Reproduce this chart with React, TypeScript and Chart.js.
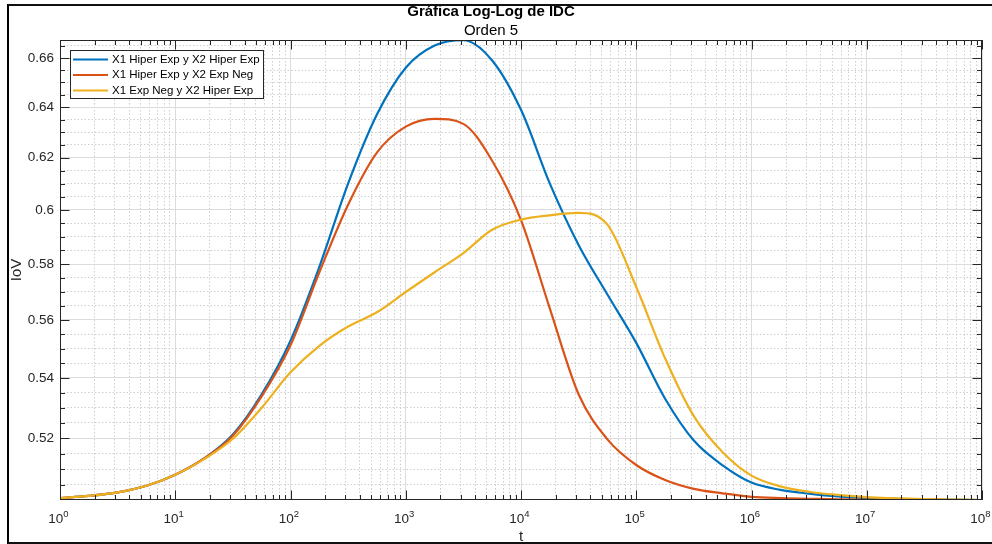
import React, { useEffect, useRef } from "react";
import { Chart, registerables } from "chart.js";

Chart.register(...registerables);

// ---- data ----
const tValues = [
  1, 1.78, 3.16, 5.62, 10, 17.8, 31.6, 56.2, 100, 178, 316, 562, 1000, 1780,
  3160, 5620, 1e4, 1.78e4, 3.16e4, 5.62e4, 1e5, 1.78e5, 3.16e5, 5.62e5, 1e6,
  1.78e6, 3.16e6, 5.62e6, 1e7, 3.16e7, 1e8,
];

const seriesLabels = [
  "X1 Hiper Exp y X2 Hiper Exp",
  "X1 Hiper Exp y X2 Exp Neg",
  "X1 Exp Neg y X2 Hiper Exp",
];

const hiperHiper = [
  0.5008, 0.5015, 0.5026, 0.5047, 0.5082, 0.5134, 0.5212, 0.5345, 0.5528, 0.579,
  0.61, 0.637, 0.656, 0.6652, 0.6674, 0.659, 0.6389, 0.61, 0.587, 0.569, 0.552,
  0.533, 0.5192, 0.5112, 0.5057, 0.5034, 0.5022, 0.5013, 0.5008, 0.5004, 0.5002,
];

const hiperNeg = [
  0.5008, 0.5015, 0.5026, 0.5047, 0.5082, 0.5134, 0.5208, 0.5338, 0.5512, 0.577,
  0.602, 0.622, 0.6322, 0.6353, 0.6333, 0.6188, 0.5962, 0.564, 0.5345, 0.5196,
  0.5113, 0.5065, 0.5037, 0.5023, 0.5012, 0.5008, 0.5006, 0.5004, 0.5003, 0.5002,
  0.5002,
];

const negHiper = [
  0.5008, 0.5015, 0.5026, 0.5047, 0.5082, 0.5132, 0.5198, 0.53, 0.5419, 0.551,
  0.5577, 0.5627, 0.5699, 0.577, 0.584, 0.5926, 0.5964, 0.598, 0.5989, 0.5945,
  0.5717, 0.5467, 0.5272, 0.5154, 0.5079, 0.5045, 0.5028, 0.5018, 0.5011, 0.5005,
  0.5002,
];

const seriesColors = ["#0072BD", "#D95319", "#EDB120"];

const yMajorTicks = [0.52, 0.54, 0.56, 0.58, 0.6, 0.62, 0.64, 0.66];
const yMinorStep = 0.005;
const yRange = [0.5002, 0.6675];
const xDecades = [1, 10, 100, 1e3, 1e4, 1e5, 1e6, 1e7, 1e8];
const xMinorMultipliers = [2, 3, 4, 5, 6, 7, 8, 9];

const titleText = "Gráfica Log-Log de IDC";
const subtitleText = "Orden 5";
const xTitle = "t";
const yTitle = "IoV";

const FONT = "'Liberation Sans', Arial, Helvetica, sans-serif";
const AXIS_COLOR = "#262626";

// ---- helpers ----
const isMajorY = (v: number) => yMajorTicks.some((m) => Math.abs(m - v) < 1e-9);
const isDecade = (v: number) => {
  const l = Math.log10(v);
  return Math.abs(l - Math.round(l)) < 1e-9;
};

const yTickValues: number[] = [];
for (
  let k = Math.ceil(yRange[0] / yMinorStep - 1e-9);
  k * yMinorStep <= yRange[1] + 1e-12;
  k++
) {
  yTickValues.push(Number((k * yMinorStep).toFixed(4)));
}

const xTickValues: number[] = [];
xDecades.forEach((d, i) => {
  xTickValues.push(d);
  if (i < xDecades.length - 1) xMinorMultipliers.forEach((m) => xTickValues.push(m * d));
});

const matlabDecor = {
  id: "matlabDecor",
  afterDraw(chart: any) {
    const { ctx, chartArea: a, scales } = chart;
    const xs = scales.x;
    const ys = scales.y;
    ctx.save();

    // inward tick marks on all four sides
    ctx.strokeStyle = AXIS_COLOR;
    ctx.lineWidth = 1;
    ctx.beginPath();
    xs.ticks.forEach((t: any) => {
      const px = Math.round(xs.getPixelForValue(t.value)) + 0.5;
      const len = isDecade(t.value) ? 9.5 : 5;
      ctx.moveTo(px, a.bottom);
      ctx.lineTo(px, a.bottom - len);
      ctx.moveTo(px, a.top);
      ctx.lineTo(px, a.top + len);
    });
    ys.ticks.forEach((t: any) => {
      const py = Math.round(ys.getPixelForValue(t.value)) + 0.5;
      const len = isMajorY(t.value) ? 9.5 : 5;
      ctx.moveTo(a.left, py);
      ctx.lineTo(a.left + len, py);
      ctx.moveTo(a.right, py);
      ctx.lineTo(a.right - len, py);
    });
    ctx.stroke();

    // axes box
    ctx.strokeRect(a.left + 0.5, a.top + 0.5, a.right - a.left - 1, a.bottom - a.top - 1);

    // x tick labels as 10^n
    ctx.fillStyle = AXIS_COLOR;
    ctx.textBaseline = "alphabetic";
    ctx.textAlign = "left";
    const baseFont = `13.5px ${FONT}`;
    const expFont = `9.5px ${FONT}`;
    xs.ticks.forEach((t: any) => {
      if (!isDecade(t.value)) return;
      const e = String(Math.round(Math.log10(t.value)));
      const px = xs.getPixelForValue(t.value);
      ctx.font = baseFont;
      const w1 = ctx.measureText("10").width;
      ctx.font = expFont;
      const w2 = ctx.measureText(e).width;
      const start = px - (w1 + w2) / 2 - 1.5;
      const base = a.bottom + 23;
      ctx.font = baseFont;
      ctx.fillText("10", start, base);
      ctx.font = expFont;
      ctx.fillText(e, start + w1, base - 6);
    });

    // legend box
    const lx = a.left + 10.5;
    const ly = a.top + 10.5;
    const lw = 193;
    const lh = 48;
    ctx.fillStyle = "#ffffff";
    ctx.fillRect(lx, ly, lw, lh);
    ctx.strokeStyle = AXIS_COLOR;
    ctx.lineWidth = 1;
    ctx.strokeRect(lx, ly, lw, lh);
    ctx.font = `11.5px ${FONT}`;
    ctx.textBaseline = "middle";
    chart.data.datasets.forEach((ds: any, i: number) => {
      const rowY = ly + 9 + i * 15.5;
      ctx.strokeStyle = ds.borderColor;
      ctx.lineWidth = 2;
      ctx.beginPath();
      ctx.moveTo(lx + 2.5, rowY);
      ctx.lineTo(lx + 37.5, rowY);
      ctx.stroke();
      ctx.fillStyle = "#000000";
      ctx.fillText(ds.label, lx + 41.5, rowY);
    });

    ctx.restore();
  },
};

export default function App() {
  const canvasRef = useRef<HTMLCanvasElement | null>(null);

  useEffect(() => {
    document.body.style.overflow = "hidden";
    const canvas = canvasRef.current;
    if (!canvas) return;

    const seriesValues = [hiperHiper, hiperNeg, negHiper];
    const datasets = seriesValues.map((arr, i) => ({
      label: seriesLabels[i],
      data: tValues.map((t, j) => ({ x: t, y: arr[j] })),
      borderColor: seriesColors[i],
      backgroundColor: seriesColors[i],
      borderWidth: 2.2,
      pointRadius: 0,
      pointHoverRadius: 0,
      cubicInterpolationMode: "monotone" as const,
      fill: false,
      order: seriesValues.length - i,
    }));

    const gridColorX = (c: any) =>
      c.tick && isDecade(c.tick.value) ? "#dcdcdc" : "#cfcfcf";
    const gridDashX = (c: any) =>
      c.tick && !isDecade(c.tick.value) ? [1.5, 2] : [];
    const gridColorY = (c: any) =>
      c.tick && isMajorY(c.tick.value) ? "#dcdcdc" : "#cfcfcf";
    const gridDashY = (c: any) =>
      c.tick && !isMajorY(c.tick.value) ? [1.5, 2] : [];

    const chart = new Chart(canvas, {
      type: "line",
      data: { datasets },
      options: {
        responsive: false,
        animation: false,
        devicePixelRatio: 1,
        layout: { padding: { left: 0, right: 10, top: 0, bottom: 0 } },
        plugins: {
          legend: { display: false },
          tooltip: { enabled: false },
          title: {
            display: true,
            text: titleText,
            color: "#000000",
            font: { family: FONT, size: 15, weight: "bold", lineHeight: 1.2 },
            padding: { top: 2.5, bottom: 1 },
          },
          subtitle: {
            display: true,
            text: subtitleText,
            color: "#000000",
            font: { family: FONT, size: 15, weight: "normal", lineHeight: 1.2 },
            padding: { top: 0, bottom: 0.5 },
          },
        },
        scales: {
          x: {
            type: "logarithmic",
            min: xDecades[0],
            max: xDecades[xDecades.length - 1],
            afterBuildTicks: (s: any) => {
              s.ticks = xTickValues.map((v) => ({ value: v }));
            },
            afterFit: (s: any) => {
              s.height = 44;
            },
            ticks: {
              autoSkip: false,
              maxRotation: 0,
              minRotation: 0,
              callback: () => "",
            },
            grid: { drawTicks: false, color: gridColorX, lineWidth: 1 },
            border: { display: false, dash: gridDashX },
            title: {
              display: true,
              text: xTitle,
              color: AXIS_COLOR,
              font: { family: FONT, size: 15, lineHeight: 1.2 },
              padding: { top: 0, bottom: -1.5 },
            },
          },
          y: {
            type: "logarithmic",
            min: yRange[0],
            max: yRange[1],
            afterBuildTicks: (s: any) => {
              s.ticks = yTickValues.map((v) => ({ value: v }));
            },
            afterFit: (s: any) => {
              s.width = 60;
            },
            ticks: {
              autoSkip: false,
              padding: 6,
              color: AXIS_COLOR,
              font: { family: FONT, size: 13.5 },
              callback: (v: any) =>
                isMajorY(Number(v)) ? String(Number(Number(v).toFixed(2))) : "",
            },
            grid: { drawTicks: false, color: gridColorY, lineWidth: 1 },
            border: { display: false, dash: gridDashY },
            title: {
              display: true,
              text: yTitle,
              color: AXIS_COLOR,
              font: { family: FONT, size: 15, lineHeight: 1.2 },
              padding: { top: 7.5, bottom: 0 },
            },
          },
        },
      },
      plugins: [matlabDecor],
    } as any);

    return () => chart.destroy();
  }, []);

  return (
    <div>
      <canvas
        ref={canvasRef}
        width={992}
        height={544}
        style={{ position: "absolute", left: 0, top: 0, width: 992, height: 544 }}
      />
      <div
        style={{
          position: "absolute",
          left: 7,
          top: 4,
          width: 985,
          height: 540,
          boxSizing: "border-box",
          borderLeft: "2px solid #000",
          borderTop: "2px solid #111",
          borderBottom: "2px solid #111",
          pointerEvents: "none",
        }}
      />
    </div>
  );
}
